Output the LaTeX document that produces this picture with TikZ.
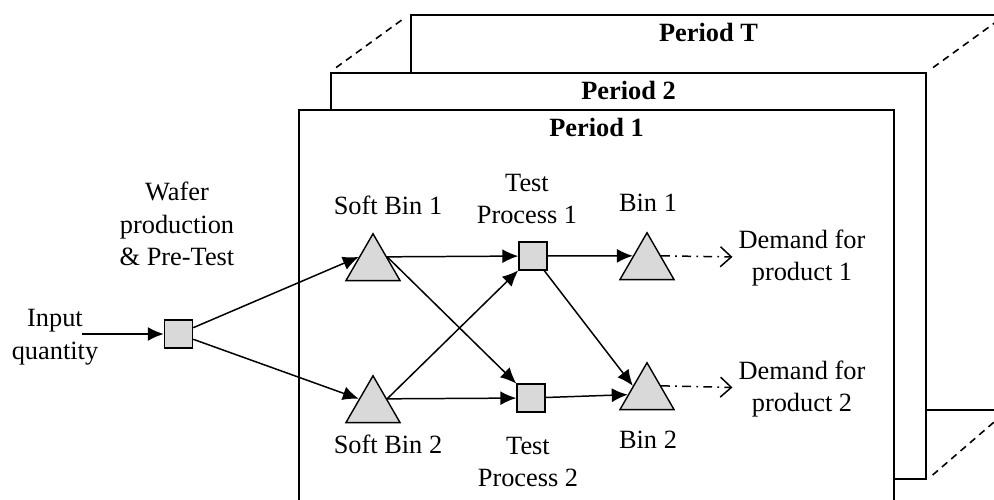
\documentclass[tikz,border=0pt]{standalone}
\usepackage{fontspec}
\setmainfont{Liberation Serif}
\usetikzlibrary{shapes,arrows.meta,positioning}

\begin{document}
\begin{tikzpicture}[font=\fontsize{15}{18.5}\selectfont]
  \tikzstyle{frame}=[draw, line width=1.1pt, fill=white, minimum width=11.9cm, anchor=north west, inner sep=0pt]
  \tikzstyle{ptitle}=[font=\fontsize{15}{18.5}\selectfont\bfseries]
  \tikzstyle{proc}=[rectangle, draw, thick, fill=gray!30, minimum size=0.56cm, inner sep=0pt]
  \tikzstyle{bin}=[regular polygon, regular polygon sides=3, draw, thick, fill=gray!30, minimum size=1.25cm, inner sep=0pt]
  \tikzstyle{lbl}=[align=center]
  \tikzstyle{flow}=[line width=0.85pt, -{Latex[length=3.2mm,width=2.8mm]}]
  \tikzstyle{demand}=[line width=0.85pt, dash pattern=on 5pt off 3pt on 1pt off 3pt, -{Straight Barb[length=2.2mm,width=4mm]}]

  \clip (0,0) rectangle (19.88,9.98);

  % Perioden (hinten nach vorne)
  \node[frame, minimum height=7.9cm] (pT) at (8.2,9.7) {};
  \node[frame, minimum height=8.12cm] (p2) at (6.6,8.54) {};
  \node[frame, minimum height=8.12cm] (p1) at (5.96,7.8) {};
  \node[ptitle, below=0.06cm of pT.north] (tT) {Period T};
  \node[ptitle, below=0.06cm of p2.north] (t2) {Period 2};
  \node[ptitle, below=0.06cm of p1.north] (t1) {Period 1};

  \draw[dashed, line width=0.9pt, dash pattern=on 4pt off 3pt, shorten <=0.15cm, shorten >=0.15cm] (p2.north west) -- (pT.north west);
  \draw[dashed, line width=0.9pt, dash pattern=on 4pt off 3pt, shorten <=0.15cm, shorten >=0.15cm] (p2.north east) -- (pT.north east);
  \draw[dashed, line width=0.9pt, dash pattern=on 4pt off 3pt, shorten <=0.15cm, shorten >=0.15cm] (p2.south east) -- (pT.south east);

  % Netzwerk
  \node[lbl] (input) at (1.1,3.24) {Input\\quantity};
  \coordinate (in) at (1.64,3.3);
  \node[proc] (wafer) at (3.57,3.3) {};
  \node[lbl] (waferl) at (3.54,5.5) {Wafer\\production\\\& Pre-Test};

  \node[bin] (sb1) at (7.46,4.68) {};
  \node[bin] (sb2) at (7.46,1.84) {};
  \node[lbl] (sb1l) at (7.76,5.88) {Soft Bin 1};
  \node[lbl] (sb2l) at (7.76,1.1) {Soft Bin 2};

  \node[proc] (tp1) at (10.66,4.86) {};
  \node[proc] (tp2) at (10.62,2.02) {};
  \node[lbl] (tp1l) at (10.54,6.0) {Test\\Process 1};
  \node[lbl] (tp2l) at (10.56,0.74) {Test\\Process 2};

  \node[bin] (bin1) at (12.94,4.7) {};
  \node[bin] (bin2) at (12.94,2.1) {};
  \node[lbl] (bin1l) at (12.96,5.92) {Bin 1};
  \node[lbl] (bin2l) at (12.96,1.18) {Bin 2};

  \node[lbl] (dem1) at (16.04,4.82) {Demand for\\product 1};
  \node[lbl] (dem2) at (16.04,2.2) {Demand for\\product 2};

  \draw[flow] (in) -- (wafer);
  \draw[flow] (wafer) -- (sb1.side 1);
  \draw[flow] (wafer) -- (sb2.side 1);
  \draw[flow] (sb1.side 3) -- (tp1);
  \draw[flow] (sb1.side 3) -- (tp2);
  \draw[flow] (sb2.side 3) -- (tp1);
  \draw[flow] (sb2.side 3) -- (tp2);
  \draw[flow] (tp1) -- (bin1.side 1);
  \draw[flow] (tp1) -- (bin2.side 1);
  \draw[flow] (tp2) -- (bin2);
  \draw[demand] (bin1.side 3) -- (dem1);
  \draw[demand] (bin2.side 3) -- (dem2);
\end{tikzpicture}
\end{document}
